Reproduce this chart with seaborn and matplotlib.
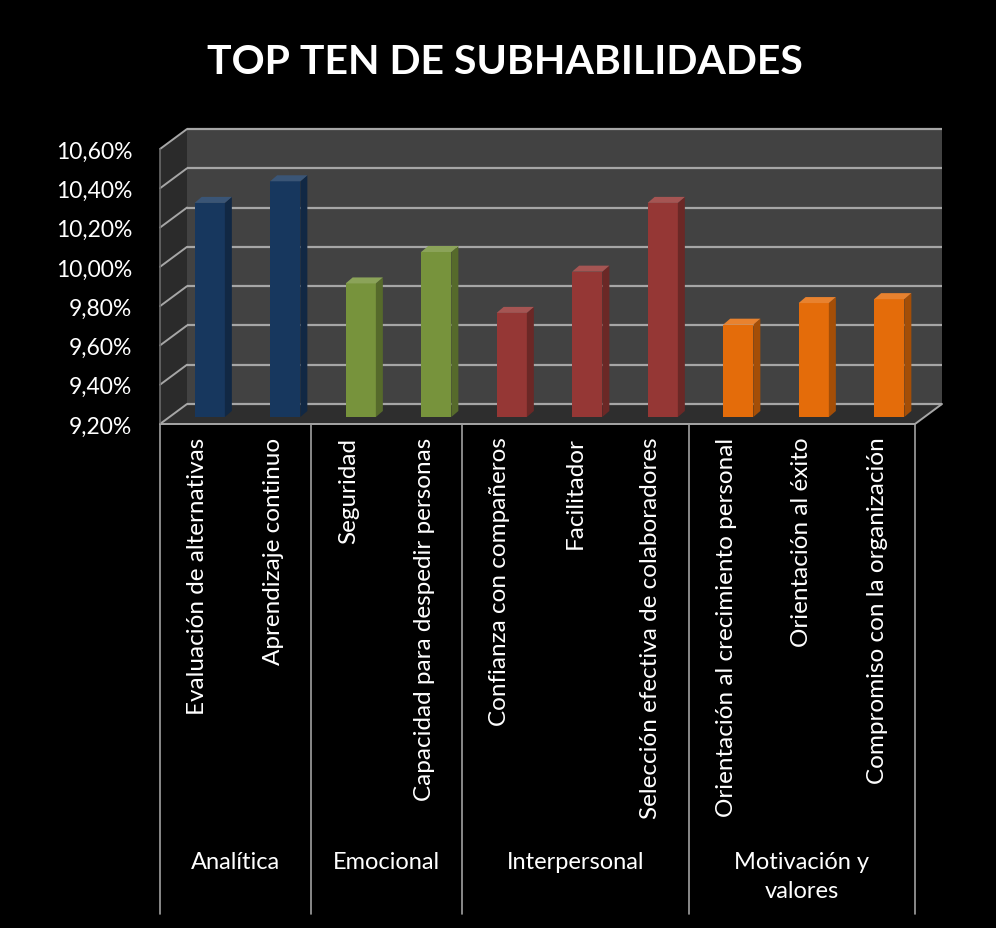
import numpy as np
import pandas as pd
import seaborn as sns
import matplotlib
matplotlib.use("Agg")
import matplotlib.pyplot as plt
from matplotlib.patches import Polygon, Rectangle
from matplotlib.colors import to_rgb
import matplotlib.transforms as mtransforms

# ---------------- data ----------------
subhabilidades = [
    "Evaluación de alternativas",
    "Aprendizaje continuo",
    "Seguridad",
    "Capacidad para despedir personas",
    "Confianza con compañeros",
    "Facilitador",
    "Selección efectiva de colaboradores",
    "Orientación al crecimiento personal",
    "Orientación al éxito",
    "Compromiso con la organización",
]
grupos = ["Analítica", "Analítica", "Emocional", "Emocional",
          "Interpersonal", "Interpersonal", "Interpersonal",
          "Motivación y valores", "Motivación y valores", "Motivación y valores"]
valores = [10.29, 10.40, 9.88, 10.04, 9.73, 9.94, 10.29, 9.67, 9.78, 9.80]
grupo_etiquetas = ["Analítica", "Emocional", "Interpersonal", "Motivación y\nvalores"]
grupo_colores = ["#17375E", "#77933C", "#953735", "#E46C0A"]
yticks = [9.2, 9.4, 9.6, 9.8, 10.0, 10.2, 10.4, 10.6]
ytick_labels = ["9,20%", "9,40%", "9,60%", "9,80%", "10,00%", "10,20%", "10,40%", "10,60%"]
titulo = "TOP TEN DE SUBHABILIDADES"

# ---------------- style ----------------
sns.set_style("white")
plt.rcParams["font.family"] = ["Lato", "DejaVu Sans"]

W, H = 996, 929
fig = plt.figure(figsize=(W / 100, H / 100), dpi=100, facecolor="black")

ax_l, ax_r, ax_t, ax_b = 160, 915, 150, 425  # pixel frame of the front plane
ax = fig.add_axes([ax_l / W, (H - ax_b) / H, (ax_r - ax_l) / W, (ax_b - ax_t) / H])
ax.set_facecolor("none")

ymin, ymax = yticks[0], yticks[-1]
n = len(subhabilidades)
px_x = (ax_r - ax_l) / n              # pixels per category
px_y = (ax_b - ax_t) / (ymax - ymin)  # pixels per data unit

uniq = list(dict.fromkeys(grupos))
col_map = dict(zip(uniq, grupo_colores))
bar_cols = [col_map[g] for g in grupos]

df = pd.DataFrame({"sub": subhabilidades, "val": valores, "grupo": grupos})
sns.barplot(data=df, x="sub", y="val", hue="sub", palette=bar_cols,
            width=0.40, saturation=1, legend=False, ax=ax, zorder=3)

ax.set_xlim(-0.5, n - 0.5)
ax.set_ylim(ymin, ymax)

# ---------------- 3D-like frame ----------------
dxw, dyw = 27 / px_x, 20 / px_y      # wall depth
wall_col = "#424242"
grid_col = "#a6a6a6"
x0, x1 = -0.5, n - 0.5

ax.add_patch(Rectangle((x0 + dxw, ymin + dyw), x1 - x0, ymax - ymin,
                       facecolor=wall_col, edgecolor="none", zorder=0, clip_on=False))
ax.add_patch(Polygon([(x0, ymin), (x0 + dxw, ymin + dyw), (x0 + dxw, ymax + dyw), (x0, ymax)],
                     closed=True, facecolor="#2b2b2b", edgecolor="none", zorder=0.5, clip_on=False))
ax.add_patch(Polygon([(x0, ymin), (x1, ymin), (x1 + dxw, ymin + dyw), (x0 + dxw, ymin + dyw)],
                     closed=True, facecolor="#2e2e2e", edgecolor="none", zorder=0.6, clip_on=False))
for t in yticks:
    ax.plot([x0 + dxw, x1 + dxw], [t + dyw, t + dyw], color=grid_col, lw=1.6,
            zorder=1, clip_on=False, solid_capstyle="butt")
    ax.plot([x0, x0 + dxw], [t, t + dyw], color=grid_col, lw=1.4, zorder=1, clip_on=False)
ax.plot([x0, x1, x1 + dxw], [ymin, ymin, ymin + dyw], color=grid_col, lw=1.4, zorder=4, clip_on=False)
ax.plot([x0, x0], [ymin, ymax], color="#6a6a6a", lw=1.2, zorder=4, clip_on=False)

# ---------------- bars with depth ----------------
dxb, dyb = 12 / px_x, 7 / px_y   # bar position inside the depth
dxd, dyd = 7 / px_x, 6 / px_y    # bar own depth
bars = [p for c in ax.containers for p in c]
for p, v, c in zip(bars, valores, bar_cols):
    xl = p.get_x() + dxb
    w = p.get_width()
    p.set_x(xl)
    p.set_y(ymin + dyb)
    p.set_height(v - ymin)
    p.set_edgecolor("none")
    top = v + dyb
    rgb = np.array(to_rgb(c))
    side = tuple(rgb * 0.72)
    topc = tuple(rgb * 0.85 + 0.15)
    ax.add_patch(Polygon([(xl + w, ymin + dyb), (xl + w + dxd, ymin + dyb + dyd),
                          (xl + w + dxd, top + dyd), (xl + w, top)],
                         closed=True, facecolor=side, edgecolor="none", zorder=3, clip_on=False))
    ax.add_patch(Polygon([(xl, top), (xl + w, top), (xl + w + dxd, top + dyd), (xl + dxd, top + dyd)],
                         closed=True, facecolor=topc, edgecolor="none", zorder=3, clip_on=False))

# ---------------- ticks ----------------
for s in ax.spines.values():
    s.set_visible(False)
ax.grid(False)
ax.set_yticks(yticks)
ax.set_yticklabels(ytick_labels)
ax.tick_params(axis="y", length=0, pad=20, labelsize=16.5, labelcolor="white")
ax.set_xticks(range(n))
ax.set_xticklabels(subhabilidades, rotation=90, va="top", ha="center")
ax.tick_params(axis="x", length=0, pad=9, labelsize=17.5, labelcolor="white")
ax.set_xlabel("")
ax.set_ylabel("")

# group dividers and labels
blend = mtransforms.blended_transform_factory(ax.transData, fig.transFigure)
bounds = [-0.5]
pos = 0
for g in uniq:
    pos += grupos.count(g)
    bounds.append(pos - 0.5)
for b in bounds:
    ax.plot([b, b], [(H - ax_b) / H, (H - 915) / H], color="#a0a0a0", lw=1.2,
            transform=blend, clip_on=False, zorder=5)
for i, lab in enumerate(grupo_etiquetas):
    xc = (bounds[i] + bounds[i + 1]) / 2
    fig.text(xc, (H - 852) / H, lab, transform=blend,
             color="white", fontsize=17, ha="center", va="top", linespacing=1.5)

# title
fig.text(505 / W, (H - 62) / H, titulo, color="white", fontsize=29.5, fontweight="bold",
         ha="center", va="center")

fig.savefig("out.png", dpi=100, facecolor="black")
